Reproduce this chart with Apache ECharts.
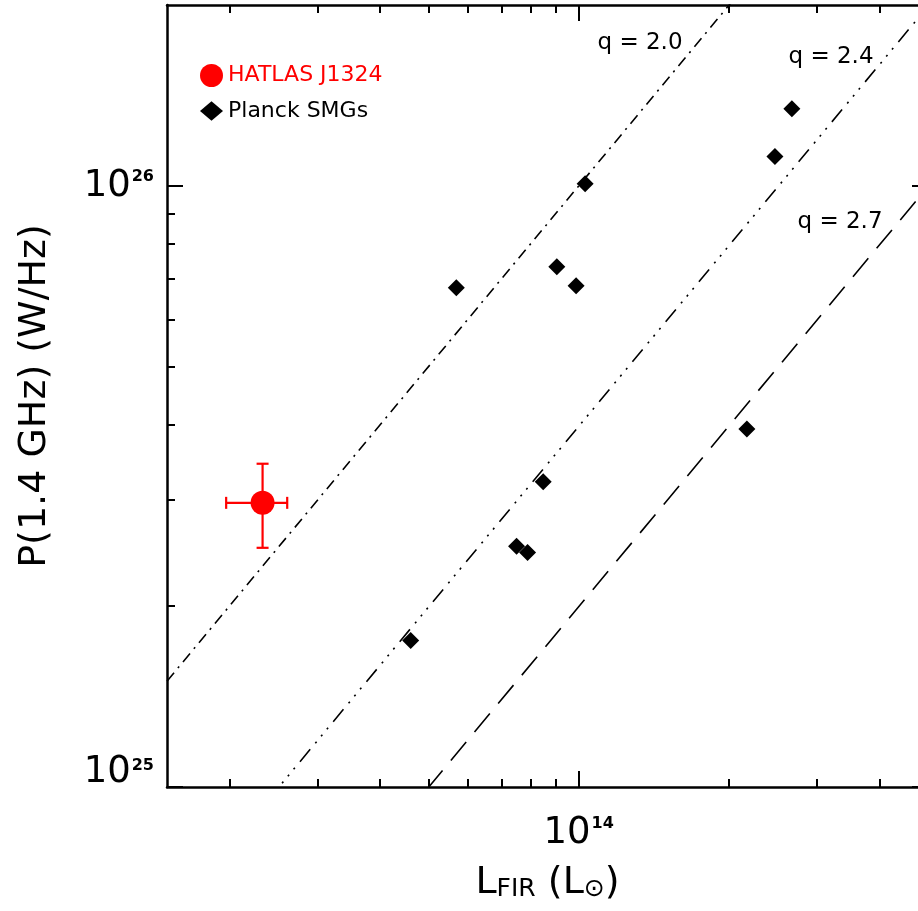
<!DOCTYPE html>
<html>
<head>
<meta charset="utf-8">
<title>P(1.4 GHz) vs L_FIR</title>
<script src="https://cdn.jsdelivr.net/npm/echarts@6/dist/echarts.min.js"></script>
<style>
  html, body { margin: 0; padding: 0; background: #ffffff; }
  #chart { width: 918px; height: 911px; }
</style>
</head>
<body>
<div id="chart"></div>
<script>
// Planck-selected SMGs: far-IR luminosity (L_sun) and 1.4 GHz power (W/Hz)
const planckLfir = [5.69e13, 9.04e13, 9.88e13, 1.03e14, 8.49e13, 7.51e13, 7.90e13, 4.61e13, 2.17e14, 2.47e14, 2.67e14];
const planckP14  = [6.77e25, 7.34e25, 6.82e25, 1.008e26, 3.22e25, 2.515e25, 2.455e25, 1.753e25, 3.94e25, 1.119e26, 1.344e26];

// HATLAS J1324 with its lower / upper bounds
const hatlasLfir      = [2.33e13];
const hatlasLfirRange = [[1.97e13, 2.61e13]];
const hatlasP14       = [2.97e25];
const hatlasP14Range  = [[2.50e25, 3.45e25]];

// FIR-radio correlation, q = log(L_FIR / 3.75e12 Hz) - log(P_1.4)
const qValues = [2.0, 2.4, 2.7];
const qLabels = ['q = 2.0', 'q = 2.4', 'q = 2.7'];

// axis extents and tick values
const xRange = [1.5e13, 5e14];
const yRange = [1e25, 2e26];
const xMajorTicks = [1e14];
const xMinorTicks = [2e13, 3e13, 4e13, 5e13, 6e13, 7e13, 8e13, 9e13, 2e14, 3e14, 4e14];
const yMajorTicks = [1e25, 1e26];
const yMinorTicks = [2e25, 3e25, 4e25, 5e25, 6e25, 7e25, 8e25, 9e25];

const FONT = 'DejaVu Sans';
const LSUN_PER_HZ = 1e14;   // L_sun / 3.75e12 Hz, in W/Hz

function qLine(q) {
  return xRange.map(function (L) { return [L, L * LSUN_PER_HZ / Math.pow(10, q)]; });
}

function powLabel(v) {
  const e = Math.round(Math.log10(v));
  return '{b|10}{s|' + e + '}';
}

const labelRich = {
  b: { fontSize: 37, fontFamily: FONT, color: '#000' },
  s: { fontSize: 16, fontFamily: FONT, fontWeight: 'bold', color: '#000', verticalAlign: 'top', padding: [1, 0, 0, 1] }
};

const frameLine = { show: true, lineStyle: { color: '#000', width: 2.5 } };
const tickStyle = { color: '#000', width: 2 };

function logAxis(range, extra) {
  return Object.assign({
    type: 'log', logBase: 10, min: range[0], max: range[1], gridIndex: 0,
    splitLine: { show: false }, minorTick: { show: false }, minorSplitLine: { show: false },
    axisLine: { show: false }, axisLabel: { show: false }, axisTick: { show: false },
    silent: true, z: 5
  }, extra);
}
function ticks(values, len) {
  return { show: true, inside: true, length: len, customValues: values, lineStyle: tickStyle };
}

const qDash = [[11, 6, 2, 6], [16, 8, 2, 7, 2, 7, 2, 8], [24, 13]];

const series = qValues.map(function (q, i) {
  return {
    type: 'line', name: qLabels[i], xAxisIndex: 0, yAxisIndex: 0,
    data: qLine(q), symbol: 'none', showSymbol: false, silent: true, clip: true, z: 2,
    lineStyle: { color: '#000', width: 1.6, type: qDash[i], opacity: 1 }
  };
});

// error bars of HATLAS J1324
series.push({
  type: 'custom', name: 'HATLAS J1324 errors', xAxisIndex: 0, yAxisIndex: 0, silent: true, z: 3,
  encode: { x: 0, y: 1 },
  data: hatlasLfir.map(function (L, i) {
    return [L, hatlasP14[i], hatlasLfirRange[i][0], hatlasLfirRange[i][1], hatlasP14Range[i][0], hatlasP14Range[i][1]];
  }),
  renderItem: function (params, api) {
    const xl = api.coord([api.value(2), api.value(1)]);
    const xh = api.coord([api.value(3), api.value(1)]);
    const yl = api.coord([api.value(0), api.value(4)]);
    const yh = api.coord([api.value(0), api.value(5)]);
    const cap = 6;
    const st = { stroke: '#ff0000', lineWidth: 2.2, fill: null, opacity: 1 };
    function seg(x1, y1, x2, y2) { return { type: 'line', shape: { x1: x1, y1: y1, x2: x2, y2: y2 }, style: st }; }
    return {
      type: 'group',
      children: [
        seg(xl[0], xl[1], xh[0], xh[1]),
        seg(xl[0], xl[1] - cap, xl[0], xl[1] + cap),
        seg(xh[0], xh[1] - cap, xh[0], xh[1] + cap),
        seg(yl[0], yl[1], yh[0], yh[1]),
        seg(yl[0] - cap, yl[1], yl[0] + cap, yl[1]),
        seg(yh[0] - cap, yh[1], yh[0] + cap, yh[1])
      ]
    };
  }
});

series.push({
  type: 'scatter', name: 'HATLAS J1324', xAxisIndex: 0, yAxisIndex: 0, z: 4, silent: true,
  symbol: 'circle', symbolSize: 24, itemStyle: { color: '#ff0000', opacity: 1 },
  data: hatlasLfir.map(function (L, i) { return [L, hatlasP14[i]]; })
});

series.push({
  type: 'scatter', name: 'Planck SMGs', xAxisIndex: 0, yAxisIndex: 0, z: 4, silent: true,
  symbol: 'diamond', symbolSize: 17, itemStyle: { color: '#000', opacity: 1 },
  data: planckLfir.map(function (L, i) { return [L, planckP14[i]]; })
});

const qLabelPos = [[640, 43], [831, 57], [840, 222]];

const option = {
  animation: false,
  backgroundColor: '#ffffff',
  grid: { left: 167, top: 5, width: 761, height: 782, containLabel: false, outerBoundsMode: 'none' },
  legend: {
    orient: 'vertical', left: 200, top: 64, padding: 0, itemGap: 13,
    itemWidth: 23, itemHeight: 23, selectedMode: false,
    itemStyle: { opacity: 1 },
    textStyle: { fontFamily: FONT, fontSize: 22, color: '#000' },
    data: [
      { name: 'HATLAS J1324', icon: 'circle', itemStyle: { color: '#ff0000', opacity: 1 }, textStyle: { color: '#ff0000' } },
      { name: 'Planck SMGs', icon: 'path://M0,8L9.5,0L19,8L9.5,16Z', itemStyle: { color: '#000', opacity: 1 } }
    ]
  },
  xAxis: [
    logAxis(xRange, {
      position: 'bottom', axisLine: frameLine, axisTick: ticks(xMajorTicks, 16),
      axisLabel: { show: true, customValues: xMajorTicks, formatter: powLabel, rich: labelRich, margin: 28 },
      name: '{m|L}{f|FIR}{m| (L}{f|\u2299}{m|)}',
      nameLocation: 'middle', nameGap: 77,
      nameTextStyle: {
        fontFamily: FONT, fontSize: 38, color: '#000',
        rich: {
          m: { fontFamily: FONT, fontSize: 38, color: '#000' },
          f: { fontFamily: FONT, fontSize: 25, color: '#000', verticalAlign: 'bottom' }
        }
      }
    }),
    logAxis(xRange, { position: 'bottom', axisTick: ticks(xMinorTicks, 8) }),
    logAxis(xRange, { position: 'top', axisLine: frameLine, axisTick: ticks(xMajorTicks, 16) }),
    logAxis(xRange, { position: 'top', axisTick: ticks(xMinorTicks, 8) })
  ],
  yAxis: [
    logAxis(yRange, {
      position: 'left', axisLine: frameLine, axisTick: ticks(yMajorTicks, 16),
      axisLabel: { show: true, customValues: [yMajorTicks[1]], formatter: powLabel, rich: labelRich, margin: 13 },
      name: 'P(1.4 GHz) (W/Hz)', nameLocation: 'middle', nameRotate: 90, nameGap: 113,
      nameTextStyle: { fontFamily: FONT, fontSize: 38, color: '#000' }
    }),
    logAxis(yRange, {
      position: 'left', axisTick: ticks(yMinorTicks, 8),
      axisLabel: { show: true, customValues: [yMajorTicks[0]], formatter: powLabel, rich: labelRich, margin: 13, verticalAlign: 'bottom', lineHeight: 30 }
    }),
    logAxis(yRange, { position: 'right', axisLine: frameLine, axisTick: ticks(yMajorTicks, 16) }),
    logAxis(yRange, { position: 'right', axisTick: ticks(yMinorTicks, 8) })
  ],
  graphic: qLabels.map(function (t, i) {
    return {
      type: 'text', x: qLabelPos[i][0], y: qLabelPos[i][1], z: 10, silent: true,
      style: { text: t, font: '23px "DejaVu Sans"', fill: '#000', textAlign: 'center', textVerticalAlign: 'middle' }
    };
  }),
  series: series
};

const chart = echarts.init(document.getElementById('chart'), null, { renderer: 'canvas', width: 918, height: 911 });
chart.setOption(option);
</script>
</body>
</html>
